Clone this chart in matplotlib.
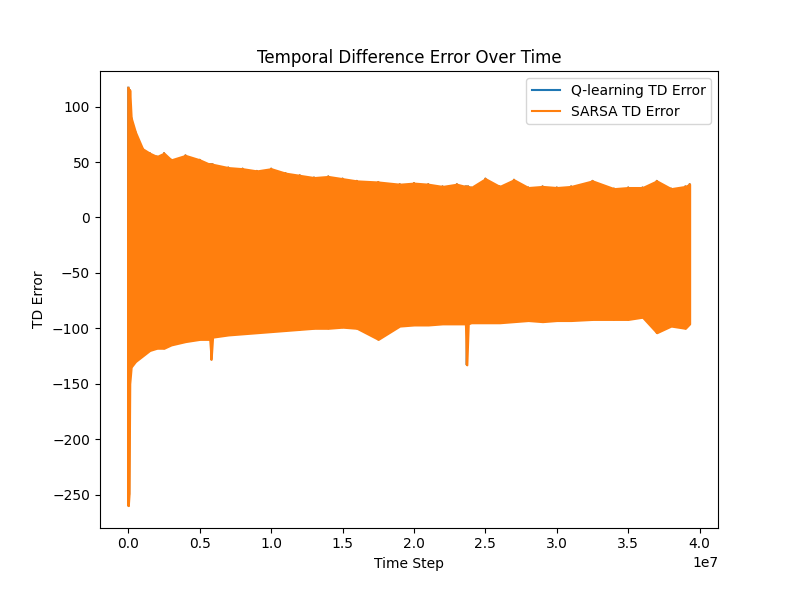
import matplotlib
matplotlib.use("Agg")
import matplotlib.pyplot as plt
import numpy as np

# Envelope of the TD error (time step in units of 1e7)
t_steps = [0.0, 0.005, 0.01, 0.02, 0.05, 0.1, 0.15, 0.2, 0.25, 0.3, 0.4, 0.5, 0.57, 0.58, 0.59, 0.7,
           0.8, 0.9, 1.0, 1.1, 1.2, 1.3, 1.4, 1.5, 1.6, 1.75, 1.9, 2.0, 2.1, 2.2, 2.3, 2.36, 2.37, 2.38,
           2.4, 2.5, 2.6, 2.7, 2.8, 2.9, 3.0, 3.1, 3.25, 3.4, 3.5, 3.6, 3.7, 3.8, 3.9, 3.93]
upper = [117, 100, 115, 90, 77, 62, 58, 55, 58, 52, 56, 52, 48, 48, 48, 45,
         44, 42, 44, 40, 38, 36, 37, 35, 33, 32, 30, 31, 30, 28, 30, 28, 28, 28,
         27, 35, 28, 34, 27, 28, 27, 28, 33, 26, 27, 27, 33, 26, 28, 30]
lower = [-260, -250, -150, -135, -130, -125, -120, -118, -118, -115, -112, -110, -110, -128, -108, -106,
         -105, -104, -103, -102, -101, -100, -100, -99, -100, -110, -98, -97, -97, -96, -96, -96, -133, -96,
         -95, -95, -95, -94, -93, -94, -93, -93, -92, -92, -92, -90, -104, -98, -100, -96]

t = np.array(t_steps) * 1e7
zig_x = np.repeat(t, 2)
zig_y = np.ravel(np.column_stack([upper, lower]))

fig, ax = plt.subplots(figsize=(7.98, 5.93), dpi=100)
ax.plot(zig_x, zig_y, color="#1f77b4", label="Q-learning TD Error", zorder=1)
ax.fill_between(t, lower, upper, color="#ff7f0e", linewidth=1.5, edgecolor="#ff7f0e", zorder=2)
ax.plot(zig_x, zig_y, color="#ff7f0e", label="SARSA TD Error", zorder=3)
ax.set_xlim(-0.2e7, 4.13e7)
ax.set_ylim(-280, 132)
ax.set_title("Temporal Difference Error Over Time")
ax.set_xlabel("Time Step")
ax.set_ylabel("TD Error")
ax.legend(loc="upper right")
fig.savefig("out.png", dpi=100)
